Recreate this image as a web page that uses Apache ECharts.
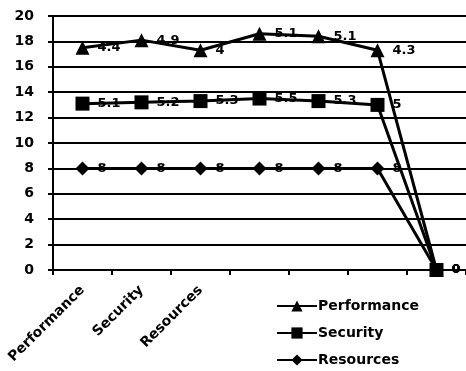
<!DOCTYPE html>
<html><head><meta charset="utf-8">
<script src="https://cdn.jsdelivr.net/npm/echarts@6/dist/echarts.min.js"></script>
<style>html,body{margin:0;padding:0;background:#fff}#c{width:466px;height:371px}</style>
</head><body><div id="c"></div>
<script>
const categories = ['Performance', 'Security', 'Resources', '', '', '', ''];
const performance = [4.4, 4.9, 4, 5.1, 5.1, 4.3, 0];
const security = [5.1, 5.2, 5.3, 5.5, 5.3, 5, 0];
const resources = [8, 8, 8, 8, 8, 8, 0];
const yTicks = [0, 2, 4, 6, 8, 10, 12, 14, 16, 18, 20];

const font = 'DejaVu Sans';
function mkSeries(name, data, symbol, size) {
  return {
    name: name, type: 'line', stack: 'total', data: data,
    symbol: symbol, symbolSize: size,
    lineStyle: {color: '#000', width: 3},
    itemStyle: {color: '#000'},
    label: {show: true, position: 'right', distance: 8, color: '#000',
      fontFamily: font, fontWeight: 'bold', fontSize: 13},
    animation: false
  };
}
const chart = echarts.init(document.getElementById('c'));
chart.setOption({
  animation: false,
  backgroundColor: '#fff',
  grid: {left: 53, right: 0, top: 16, bottom: 101, containLabel: false},
  xAxis: {
    type: 'category', data: categories, boundaryGap: true,
    axisLine: {show: true, lineStyle: {color: '#000', width: 2}},
    axisTick: {show: true, inside: false, length: 5, lineStyle: {color: '#000', width: 2}},
    axisLabel: {rotate: 45, color: '#000', fontFamily: font, fontWeight: 'bold', fontSize: 14, margin: 18, interval: 0}
  },
  yAxis: {
    type: 'value', min: yTicks[0], max: yTicks[yTicks.length - 1], interval: 2,
    axisLine: {show: true, lineStyle: {color: '#000', width: 2}},
    axisTick: {show: true, length: 5, lineStyle: {color: '#000', width: 2}},
    axisLabel: {color: '#000', fontFamily: font, fontWeight: 'bold', fontSize: 14, margin: 19},
    splitLine: {show: true, lineStyle: {color: '#000', width: 2}}
  },
  legend: {
    orient: 'vertical', left: 276, top: 299, itemGap: 13, padding: 0,
    height: 72,
    itemWidth: 40, itemHeight: 14,
    data: ['Performance', 'Security', 'Resources'],
    textStyle: {color: '#000', fontFamily: font, fontWeight: 'bold', fontSize: 14, padding: [0, 0, 0, -4]}
  },
  series: [
    mkSeries('Resources', resources, 'diamond', 14),
    mkSeries('Security', security, 'rect', 14),
    mkSeries('Performance', performance, 'triangle', 14)
  ]
});
</script></body></html>
